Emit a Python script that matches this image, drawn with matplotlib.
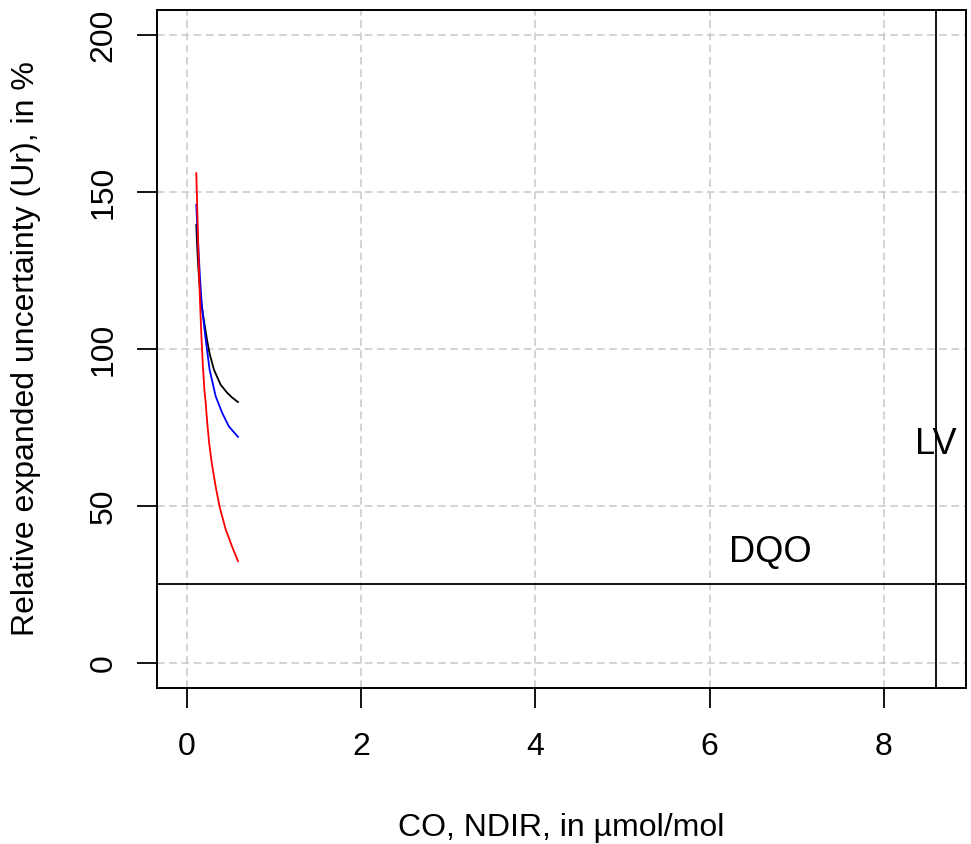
import matplotlib
matplotlib.use("Agg")
import matplotlib.pyplot as plt

# Data
black_x = [0.107, 0.12, 0.135, 0.15, 0.17, 0.195, 0.233, 0.26, 0.31, 0.387, 0.463, 0.52, 0.586]
black_y = [139.5, 131.0, 124.0, 118.5, 113.5, 109.0, 102.5, 98.5, 93.4, 88.6, 86.0, 84.5, 83.1]
blue_x = [0.107, 0.12, 0.135, 0.149, 0.169, 0.19, 0.215, 0.26, 0.33, 0.405, 0.482, 0.586]
blue_y = [146.0, 138.0, 130.0, 123.0, 114.5, 109.0, 103.0, 93.4, 84.9, 79.6, 75.3, 72.0]
red_x = [0.107, 0.12, 0.135, 0.15, 0.165, 0.18, 0.2, 0.215, 0.233, 0.255, 0.283, 0.33, 0.375, 0.444, 0.52, 0.586]
red_y = [156.0, 143.0, 127.0, 115.0, 104.5, 96.0, 87.0, 82.8, 76.4, 70.0, 64.0, 56.1, 49.7, 42.6, 36.9, 32.4]
dqo_level = 25
lv_level = 8.6
xticks = [0, 2, 4, 6, 8]
yticks = [0, 50, 100, 150, 200]

plt.rcParams['font.family'] = ['Liberation Sans', 'DejaVu Sans']

fig = plt.figure(figsize=(9.71, 8.44), dpi=100)
ax = fig.add_axes([157/971, 1-688/844, (966-157)/971, (688-10)/844])

ax.set_xlim(-0.04*8.6, 8.6*1.04)
ax.set_ylim(-8, 208)

ax.grid(True, color='#c8c8c8', linestyle=(0, (5, 3)), linewidth=1.1)
ax.set_axisbelow(True)

ax.plot(black_x, black_y, color='black', lw=1.3)
ax.plot(blue_x, blue_y, color='blue', lw=1.3)
ax.plot(red_x, red_y, color='red', lw=1.3)

ax.axhline(dqo_level, color='black', lw=1.3)
ax.axvline(lv_level, color='black', lw=1.3)
ax.text(6.7, 29.5, 'DQO', fontsize=26, ha='center', va='bottom')
ax.text(lv_level, 64, 'LV', fontsize=26, ha='center', va='bottom')

ax.set_xticks(xticks)
ax.set_yticks(yticks)
ax.tick_params(axis='both', direction='out', length=14.5, width=1.3, labelsize=23)
ax.tick_params(axis='x', pad=17)
ax.tick_params(axis='y', pad=13)
for lab in ax.get_yticklabels():
    lab.set_rotation(90)
    lab.set_va('center')
for sp in ax.spines.values():
    sp.set_linewidth(1.4)

fig.text(0.5*(157+966)/971, 1-828/844, 'CO, NDIR, in µmol/mol', fontsize=23, ha='center', va='center')
fig.text(26/971, 1-0.5*(10+688)/844, 'Relative expanded uncertainty (Ur), in %', fontsize=23,
         ha='center', va='center', rotation=90)

fig.savefig('out.png', dpi=100)
